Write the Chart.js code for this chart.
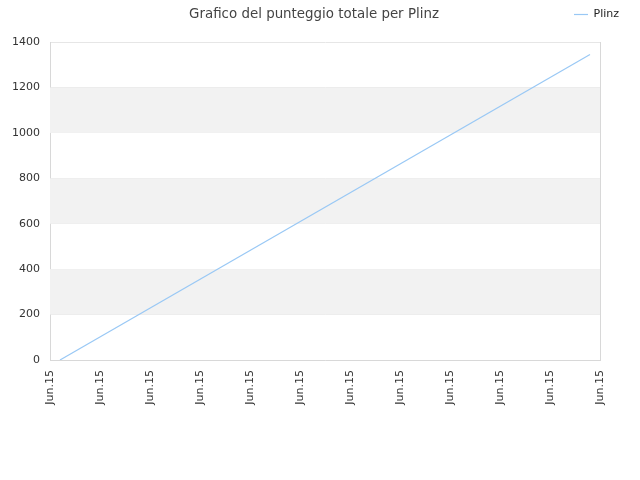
<!DOCTYPE html>
<html lang="it">
<head>
  <meta charset="UTF-8">
  <title>Grafico del punteggio totale per Plinz</title>
  <style>
    html, body { margin: 0; padding: 0; background: #fff; }
    #box { width: 640px; height: 480px; }
  </style>
</head>
<body>
  <div id="box"><canvas id="grafico" width="640" height="480"></canvas></div>

  <script src="https://cdn.jsdelivr.net/npm/chart.js"></script>
  <script>
    // dati
    const etichetteX = ['Jun.15', 'Jun.15', 'Jun.15', 'Jun.15', 'Jun.15', 'Jun.15',
                        'Jun.15', 'Jun.15', 'Jun.15', 'Jun.15', 'Jun.15', 'Jun.15'];
    const posizioni = [0.2, 10.8];
    const punteggi = [0, 1345];
    const nomeSerie = 'Plinz';

    // bande grigie alternate tra le tacche dell'asse y
    const bande = {
      id: 'bande',
      beforeDatasetsDraw(chart) {
        const { ctx, chartArea, scales } = chart;
        const ticks = scales.y.ticks;
        ctx.save();
        ctx.fillStyle = '#f2f2f2';
        for (let i = 1; i < ticks.length - 1; i += 2) {
          const y1 = scales.y.getPixelForValue(ticks[i].value);
          const y2 = scales.y.getPixelForValue(ticks[i + 1].value);
          ctx.fillRect(chartArea.left, y2, chartArea.right - chartArea.left, y1 - y2);
        }
        ctx.restore();
      }
    };

    const ctx = document.getElementById('grafico').getContext('2d');
    new Chart(ctx, {
      type: 'line',
      data: {
        datasets: [{
          label: nomeSerie,
          data: posizioni.map((x, i) => ({ x: x, y: punteggi[i] })),
          borderColor: '#99c8f5',
          backgroundColor: '#99c8f5',
          borderWidth: 1.2,
          pointRadius: 0,
          fill: false,
          tension: 0
        }]
      },
      options: {
        responsive: false,
        animation: false,
        layout: { padding: { top: 0, left: 0, right: 12, bottom: 0 } },
        plugins: {
          title: {
            display: true,
            text: 'Grafico del punteggio totale per Plinz',
            color: '#444',
            font: { family: 'DejaVu Sans', size: 13.4, weight: 'normal' },
            padding: { top: -24, bottom: 20 }
          },
          legend: {
            weight: 3000,
            align: 'end',
            labels: {
              color: '#222',
              font: { family: 'DejaVu Sans', size: 11 },
              usePointStyle: true,
              pointStyle: 'line',
              pointStyleWidth: 14,
              padding: 9
            }
          },
          tooltip: { enabled: false }
        },
        scales: {
          x: {
            type: 'linear',
            min: 0,
            max: etichetteX.length - 1,
            afterFit(scale) { scale.height = 120; },
            afterBuildTicks(scale) {
              scale.ticks = etichetteX.map((_, i) => ({ value: i }));
            },
            ticks: {
              callback: (v, i) => etichetteX[i],
              minRotation: 90,
              maxRotation: 90,
              autoSkip: false,
              color: '#333',
              font: { family: 'DejaVu Sans', size: 11 },
              padding: 2
            },
            grid: { display: false },
            border: { color: '#d8d8d8' }
          },
          y: {
            min: 0,
            max: 1400,
            afterFit(scale) { scale.width = 50; },
            ticks: {
              stepSize: 200,
              callback: v => String(v),
              color: '#333',
              font: { family: 'DejaVu Sans', size: 11 },
              padding: 10
            },
            grid: { color: '#e6e6e6', drawTicks: false },
            border: { color: '#d8d8d8' }
          },
          destra: {
            position: 'right',
            min: 0,
            max: 1400,
            afterFit(scale) { scale.width = 28; },
            ticks: { display: false },
            grid: { display: false },
            border: { color: '#d8d8d8' }
          }
        }
      },
      plugins: [bande]
    });
  </script>
</body>
</html>
